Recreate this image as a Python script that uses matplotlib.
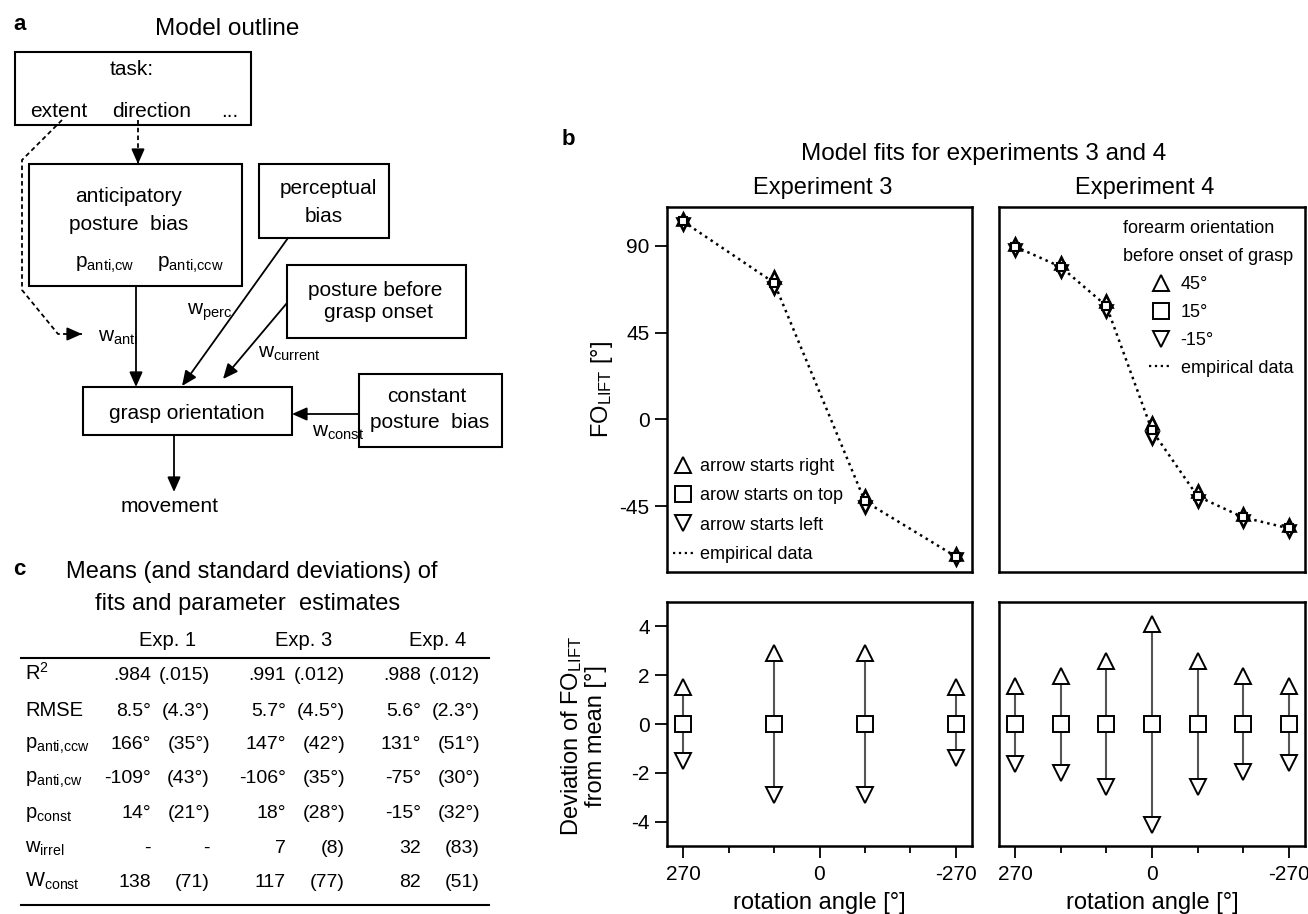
import numpy as np
import matplotlib
matplotlib.use("Agg")
import matplotlib.pyplot as plt
from matplotlib.lines import Line2D
from matplotlib.patches import Rectangle

plt.rcParams["font.family"] = ["Liberation Sans", "DejaVu Sans"]
plt.rcParams["mathtext.fontset"] = "custom"
plt.rcParams["mathtext.rm"] = "Liberation Sans"
plt.rcParams["mathtext.it"] = "Liberation Sans:italic"
plt.rcParams["mathtext.bf"] = "Liberation Sans:bold"

# ---- panel b data ----
ROT_EXP3 = [270, 90, -90, -270]
EMP_EXP3 = [102.5, 70.8, -42.4, -71.0]
DEV_UP_EXP3 = [1.5, 2.9, 2.9, 1.5]
DEV_DN_EXP3 = [-1.5, -2.9, -2.9, -1.4]

ROT_EXP4 = [270, 180, 90, 0, -90, -180, -270]
EMP_EXP4 = [89.5, 79.0, 58.8, -5.7, -39.8, -50.7, -56.4]
DEV_UP_EXP4 = [1.55, 1.95, 2.6, 4.1, 2.6, 1.95, 1.55]
DEV_DN_EXP4 = [-1.65, -2.0, -2.6, -4.15, -2.6, -1.95, -1.6]

LEGEND_EXP3 = ["arrow starts right", "arow starts on top", "arrow starts left", "empirical data"]
LEGEND_EXP4 = ["45°", "15°", "-15°", "empirical data"]
LEGEND_EXP4_TITLE = "forearm orientation\nbefore onset of grasp"

TOP_YTICKS = [90, 45, 0, -45]
BOTTOM_YTICKS = [4, 2, 0, -2, -4]
MAJOR_XTICKS = [270, 0, -270]
MINOR_XTICKS = [180, 90, -90, -180]

# ---- panel c table ----
ROW_LABELS = ["R$^\\mathregular{2}$", "RMSE", "p$_\\mathregular{anti{,}ccw}$", "p$_\\mathregular{anti{,}cw}$",
              "p$_\\mathregular{const}$", "w$_\\mathregular{irrel}$", "W$_\\mathregular{const}$"]
EXP_HEADERS = ["Exp. 1", "Exp. 3", "Exp. 4"]
EXP1_MEAN = [".984", "8.5°", "166°", "-109°", "14°", "-", "138"]
EXP1_SD = ["(.015)", "(4.3°)", "(35°)", "(43°)", "(21°)", "-", "(71)"]
EXP3_MEAN = [".991", "5.7°", "147°", "-106°", "18°", "7", "117"]
EXP3_SD = ["(.012)", "(4.5°)", "(42°)", "(35°)", "(28°)", "(8)", "(77)"]
EXP4_MEAN = [".988", "5.6°", "131°", "-75°", "-15°", "32", "82"]
EXP4_SD = ["(.012)", "(2.3°)", "(51°)", "(30°)", "(32°)", "(83)", "(51)"]

W, H = 1308, 914
fig = plt.figure(figsize=(W / 100, H / 100), dpi=100)

# overlay axes in pixel coordinates for diagram, table and titles
ax0 = fig.add_axes([0, 0, 1, 1])
ax0.set_xlim(0, W)
ax0.set_ylim(H, 0)
ax0.axis("off")


def px_axes(left, top, right, bottom):
    return fig.add_axes([left / W, 1 - bottom / H, (right - left) / W, (bottom - top) / H])


def box(x0, y0, x1, y1):
    ax0.add_patch(Rectangle((x0, y0), x1 - x0, y1 - y0, fill=False, lw=1.5, ec="black"))


def arrow(x0, y0, x1, y1):
    ax0.annotate("", xy=(x1, y1), xytext=(x0, y0),
                 arrowprops=dict(arrowstyle="-|>,head_length=0.9,head_width=0.4",
                                 lw=1.3, color="black", shrinkA=0, shrinkB=0))


def dashed_arrow(xs, ys):
    ax0.plot(xs, ys, color="black", lw=1.3, ls=(0, (2.5, 1.8)))
    # solid head on the last segment
    dx, dy = xs[-1] - xs[-2], ys[-1] - ys[-2]
    n = np.hypot(dx, dy)
    arrow(xs[-1] - dx / n * 10, ys[-1] - dy / n * 10, xs[-1], ys[-1])


# ---------------- panel a ----------------
FS_A = 15
ax0.text(13, 30, "a", fontsize=16, fontweight="bold", va="baseline")
ax0.text(227, 35, "Model outline", fontsize=17.5, ha="center", va="baseline")

box(15, 52, 251, 125)
ax0.text(132, 75, "task:", fontsize=FS_A, ha="center", va="baseline")
ax0.text(59, 117, "extent", fontsize=FS_A, ha="center", va="baseline")
ax0.text(152, 117, "direction", fontsize=FS_A, ha="center", va="baseline")
ax0.text(230, 117, "...", fontsize=FS_A, ha="center", va="baseline")

box(29, 164, 242, 286)
ax0.text(129, 202, "anticipatory", fontsize=FS_A, ha="center", va="baseline")
ax0.text(129, 230, "posture  bias", fontsize=FS_A, ha="center", va="baseline")
ax0.text(75, 268, "p$_\\mathregular{anti{,}cw}$", fontsize=FS_A, va="baseline")
ax0.text(157, 268, "p$_\\mathregular{anti{,}ccw}$", fontsize=FS_A, va="baseline")

box(259, 164, 389, 238)
ax0.text(328, 194, "perceptual", fontsize=FS_A, ha="center", va="baseline")
ax0.text(324, 222, "bias", fontsize=FS_A, ha="center", va="baseline")

box(287, 265, 466, 338)
ax0.text(375, 296, "posture before", fontsize=FS_A, ha="center", va="baseline")
ax0.text(378, 318, "grasp onset", fontsize=FS_A, ha="center", va="baseline")

box(83, 387, 292, 435)
ax0.text(187, 419, "grasp orientation", fontsize=FS_A, ha="center", va="baseline")

box(359, 374, 502, 447)
ax0.text(427, 402, "constant", fontsize=FS_A, ha="center", va="baseline")
ax0.text(430, 428, "posture  bias", fontsize=FS_A, ha="center", va="baseline")

ax0.text(170, 512, "movement", fontsize=FS_A, ha="center", va="baseline")

dashed_arrow([138, 138], [120, 164])
dashed_arrow([62, 22, 22, 58, 82], [120, 160, 290, 334, 334])
arrow(136, 286, 136, 387)
arrow(288, 238, 182, 386)
arrow(287, 303, 223, 379)
arrow(359, 414, 292, 414)
arrow(174, 435, 174, 492)

ax0.text(98, 342, "w$_\\mathregular{anti}$", fontsize=FS_A, va="baseline")
ax0.text(187, 315, "w$_\\mathregular{perc}$", fontsize=FS_A, va="baseline")
ax0.text(258, 358, "w$_\\mathregular{current}$", fontsize=FS_A, va="baseline")
ax0.text(312, 437, "w$_\\mathregular{const}$", fontsize=FS_A, va="baseline")

# ---------------- panel c ----------------
FS_C = 14
ax0.text(13, 575, "c", fontsize=16, fontweight="bold", va="baseline")
ax0.text(252, 578, "Means (and standard deviations) of", fontsize=17, ha="center", va="baseline")
ax0.text(248, 610, "fits and parameter  estimates", fontsize=17, ha="center", va="baseline")

header_x = [168, 304, 438]
for hx, htxt in zip(header_x, EXP_HEADERS):
    ax0.text(hx, 646, htxt, fontsize=14.5, ha="center", va="baseline")
ax0.plot([21, 489], [658, 658], color="black", lw=1.5)
ax0.plot([21, 489], [905, 905], color="black", lw=1.5)

row_y = [680, 716, 749, 783, 818, 853, 887]
mean_x = [151, 286, 421]
sd_x = [210, 345, 480]
cols = [(EXP1_MEAN, EXP1_SD), (EXP3_MEAN, EXP3_SD), (EXP4_MEAN, EXP4_SD)]
for i, ry in enumerate(row_y):
    ax0.text(25, ry, ROW_LABELS[i], fontsize=FS_C + 0.5, va="baseline")
    for (means, sds), mx, sx in zip(cols, mean_x, sd_x):
        ax0.text(mx, ry, means[i], fontsize=FS_C, ha="right", va="baseline")
        ax0.text(sx, ry, sds[i], fontsize=FS_C, ha="right", va="baseline")

# ---------------- panel b ----------------
ax0.text(562, 145, "b", fontsize=16, fontweight="bold", va="baseline")
ax0.text(984, 160, "Model fits for experiments 3 and 4", fontsize=17.5, ha="center", va="baseline")
ax0.text(823, 194, "Experiment 3", fontsize=17, ha="center", va="baseline")
ax0.text(1145, 194, "Experiment 4", fontsize=17, ha="center", va="baseline")

ax_t3 = px_axes(667, 207, 972, 572)
ax_t4 = px_axes(999, 207, 1305, 572)
ax_b3 = px_axes(667, 602, 972, 846)
ax_b4 = px_axes(999, 602, 1305, 846)

mk_top = dict(ls="none", ms=8, mfc="white", mec="black", mew=1.9)
mk_bot = dict(ls="none", ms=12, mfc="white", mec="black", mew=1.4)

for ax, rot, emp, up, dn in [(ax_t3, ROT_EXP3, EMP_EXP3, DEV_UP_EXP3, DEV_DN_EXP3),
                             (ax_t4, ROT_EXP4, EMP_EXP4, DEV_UP_EXP4, DEV_DN_EXP4)]:
    emp = np.array(emp)
    ax.plot(rot, emp, ls=":", color="black", lw=1.8, zorder=1)
    ax.plot(rot, emp + np.array(up), marker="^", zorder=3, **mk_top)
    ax.plot(rot, emp + np.array(dn), marker="v", zorder=3, **mk_top)
    ax.plot(rot, emp, marker="s", zorder=4, **dict(mk_top, ms=5.5, mew=1.5))
    ax.set_xlim(302, -302)
    ax.set_ylim(-79, 110)
    ax.set_xticks([])

for ax, rot, up, dn in [(ax_b3, ROT_EXP3, DEV_UP_EXP3, DEV_DN_EXP3),
                        (ax_b4, ROT_EXP4, DEV_UP_EXP4, DEV_DN_EXP4)]:
    ax.vlines(rot, dn, up, color="#555555", lw=1.5, zorder=1)
    ax.plot(rot, up, marker="^", zorder=3, **mk_bot)
    ax.plot(rot, np.zeros(len(rot)), marker="s", zorder=3, **mk_bot)
    ax.plot(rot, dn, marker="v", zorder=3, **mk_bot)
    ax.set_xlim(302, -302)
    ax.set_ylim(-5, 5)
    ax.set_xticks(MAJOR_XTICKS)
    ax.set_xticks(MINOR_XTICKS, minor=True)
    ax.set_xticklabels([str(t) for t in MAJOR_XTICKS])
    ax.tick_params(axis="x", which="major", direction="out", length=8.5, width=1.3, pad=5, labelsize=15)
    ax.tick_params(axis="x", which="minor", direction="out", length=5, width=1.3)
    ax.set_xlabel("rotation angle [°]", fontsize=17, labelpad=6)

for ax in (ax_t3, ax_t4, ax_b3, ax_b4):
    for sp in ax.spines.values():
        sp.set_linewidth(1.8)

for ax, ticks in [(ax_t3, TOP_YTICKS), (ax_b3, BOTTOM_YTICKS)]:
    ax.set_yticks(ticks)
    ax.set_yticklabels([str(t) for t in ticks])
    ax.tick_params(axis="y", direction="out", length=8.5, width=1.3, pad=4, labelsize=15)
for ax in (ax_t4, ax_b4):
    ax.set_yticks([])

ax_t3.set_ylabel("FO$_\\mathregular{LIFT}$ [°]", fontsize=17)
ax_t3.yaxis.set_label_coords(-0.17, 0.5)
ax_b3.set_ylabel("Deviation of FO$_\\mathregular{LIFT}$\nfrom mean [°]", fontsize=17, linespacing=1.1)
ax_b3.yaxis.set_label_coords(-0.196, 0.45)

# legends
mk_leg = dict(ls="none", ms=11, mfc="white", mec="black", mew=1.4)
handles = [Line2D([], [], marker="^", **mk_leg),
           Line2D([], [], marker="s", **mk_leg),
           Line2D([], [], marker="v", **mk_leg),
           Line2D([], [], ls=":", color="black", lw=1.6)]

ax_t3.legend(handles, LEGEND_EXP3, loc="lower left", bbox_to_anchor=(0.02, 0.025),
             frameon=False, fontsize=13, handlelength=1.1, handletextpad=0.4,
             labelspacing=0.68, borderpad=0, borderaxespad=0)

leg4 = ax_t4.legend(handles, LEGEND_EXP4, loc="upper right", bbox_to_anchor=(0.961, 0.965),
                    frameon=False, fontsize=13, title=LEGEND_EXP4_TITLE, title_fontsize=13,
                    handlelength=1.3, handletextpad=0.45, labelspacing=0.6,
                    borderpad=0, borderaxespad=0, alignment="right")
leg4.get_title().set_linespacing(1.9)

fig.savefig("out.png", dpi=100)
